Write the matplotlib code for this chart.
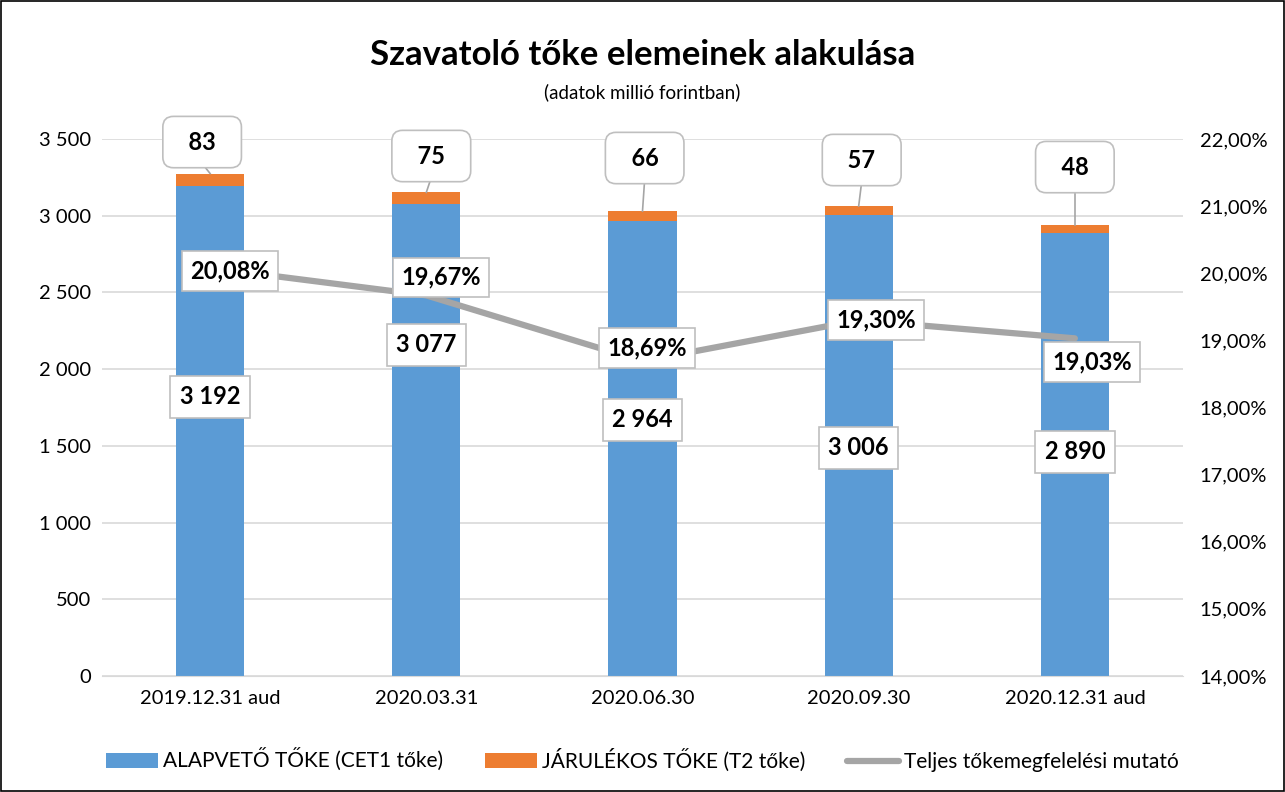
import numpy as np
import matplotlib.pyplot as plt

plt.rcParams['font.family'] = ['Lato', 'DejaVu Sans']

datumok = ['2019.12.31 aud', '2020.03.31', '2020.06.30', '2020.09.30', '2020.12.31 aud']
cet1 = [3192, 3077, 2964, 3006, 2890]
t2 = [83, 75, 66, 57, 48]
mutato = [20.08, 19.67, 18.69, 19.30, 19.03]

def hu(v):
    return '{:,}'.format(v).replace(',', ' ')

fig = plt.figure(figsize=(12.85, 7.92), dpi=100)
ax = fig.add_axes([0.0794, 0.1465, 0.8412, 0.678])
ax2 = ax.twinx()

x = np.arange(len(datumok))
w = 0.315
b1 = ax.bar(x, cet1, w, color='#5b9bd5', label='ALAPVETŐ TŐKE (CET1 tőke)', zorder=2)
b2 = ax.bar(x, t2, w, bottom=cet1, color='#ed7d31', label='JÁRULÉKOS TŐKE (T2 tőke)', zorder=2)
ln, = ax2.plot(x, mutato, color='#a5a5a5', lw=4.5, solid_capstyle='round',
               label='Teljes tőkemegfelelési mutató', zorder=3)

ax.set_ylim(0, 3500)
ax.set_yticks(np.arange(0, 3501, 500))
ax.set_yticklabels([hu(v) for v in range(0, 3501, 500)])
ax2.set_ylim(14, 22)
ax2.set_yticks(np.arange(14, 22.01, 1))
ax2.set_yticklabels(['{:.2f}%'.format(v).replace('.', ',') for v in np.arange(14, 22.01, 1)])
ax.set_xlim(-0.5, len(datumok) - 0.5)
ax.set_xticks(x)
ax.set_xticklabels(datumok)

ax.grid(axis='y', color='#d9d9d9', lw=1.2, zorder=0)
for a in (ax, ax2):
    for s in a.spines.values():
        s.set_visible(False)
    a.tick_params(length=0, labelsize=14.5, colors='black', pad=8)
ax.spines['bottom'].set_visible(True)
ax.spines['bottom'].set_color('#d9d9d9')
ax.tick_params(axis='x', pad=10)
ax2.tick_params(axis='y', pad=12)

ax.set_zorder(1)
ax2.set_zorder(2)
ax2.patch.set_visible(False)

# CET1 cimkek
cet1_off = [-1373, -919, -1295, -1520, -1430]
for i, v in enumerate(cet1):
    ax.text(i, v + cet1_off[i], hu(v), ha='center', va='center', fontsize=17, fontweight='bold', zorder=5,
            bbox=dict(boxstyle='square,pad=0.4', fc='white', ec='#bfbfbf', lw=1.2))

# T2 cimkek
t2_y = [3480, 3389, 3376, 3363, 3317]
t2_dx = [-0.037, 0.023, 0.01, 0.014, 0.0]
for i, v in enumerate(t2):
    top = cet1[i] + v
    ax.plot([i, i + t2_dx[i]], [top, t2_y[i] - 140], color='#a5a5a5', lw=1.2, zorder=4)
    ax.text(i + t2_dx[i], t2_y[i], '  ' + str(v) + '  ', ha='center', va='center', fontsize=17,
            fontweight='bold', zorder=5,
            bbox=dict(boxstyle='round,pad=0.6,rounding_size=0.45', fc='white', ec='#bfbfbf', lw=1.2))

# mutato cimkek
m_dx = [0.09, 0.07, 0.02, 0.08, 0.08]
m_dy = [-0.05, 0.27, 0.20, 0.0, -0.35]
for i, v in enumerate(mutato):
    ax2.text(i + m_dx[i], v + m_dy[i], '{:.2f}%'.format(v).replace('.', ','), ha='center', va='center',
             fontsize=17, fontweight='bold', zorder=6,
             bbox=dict(boxstyle='square,pad=0.35', fc='white', ec='#bfbfbf', lw=1.2))

fig.text(0.5, 0.931, 'Szavatoló tőke elemeinek alakulása', ha='center', va='center', fontsize=25, fontweight='bold')
fig.text(0.5, 0.883, '(adatok millió forintban)', ha='center', va='center', fontsize=13.5)

fig.legend(handles=[b1, b2, ln], loc='center', bbox_to_anchor=(0.5, 0.04), ncol=3, frameon=False,
           fontsize=15, handlelength=2.5, handleheight=0.67, columnspacing=2.0, handletextpad=0.25)

fig.patches.append(plt.Rectangle((0.001, 0.001), 0.998, 0.998, transform=fig.transFigure,
                                 fill=False, ec='black', lw=1.2))

fig.savefig('out.png', dpi=100)
